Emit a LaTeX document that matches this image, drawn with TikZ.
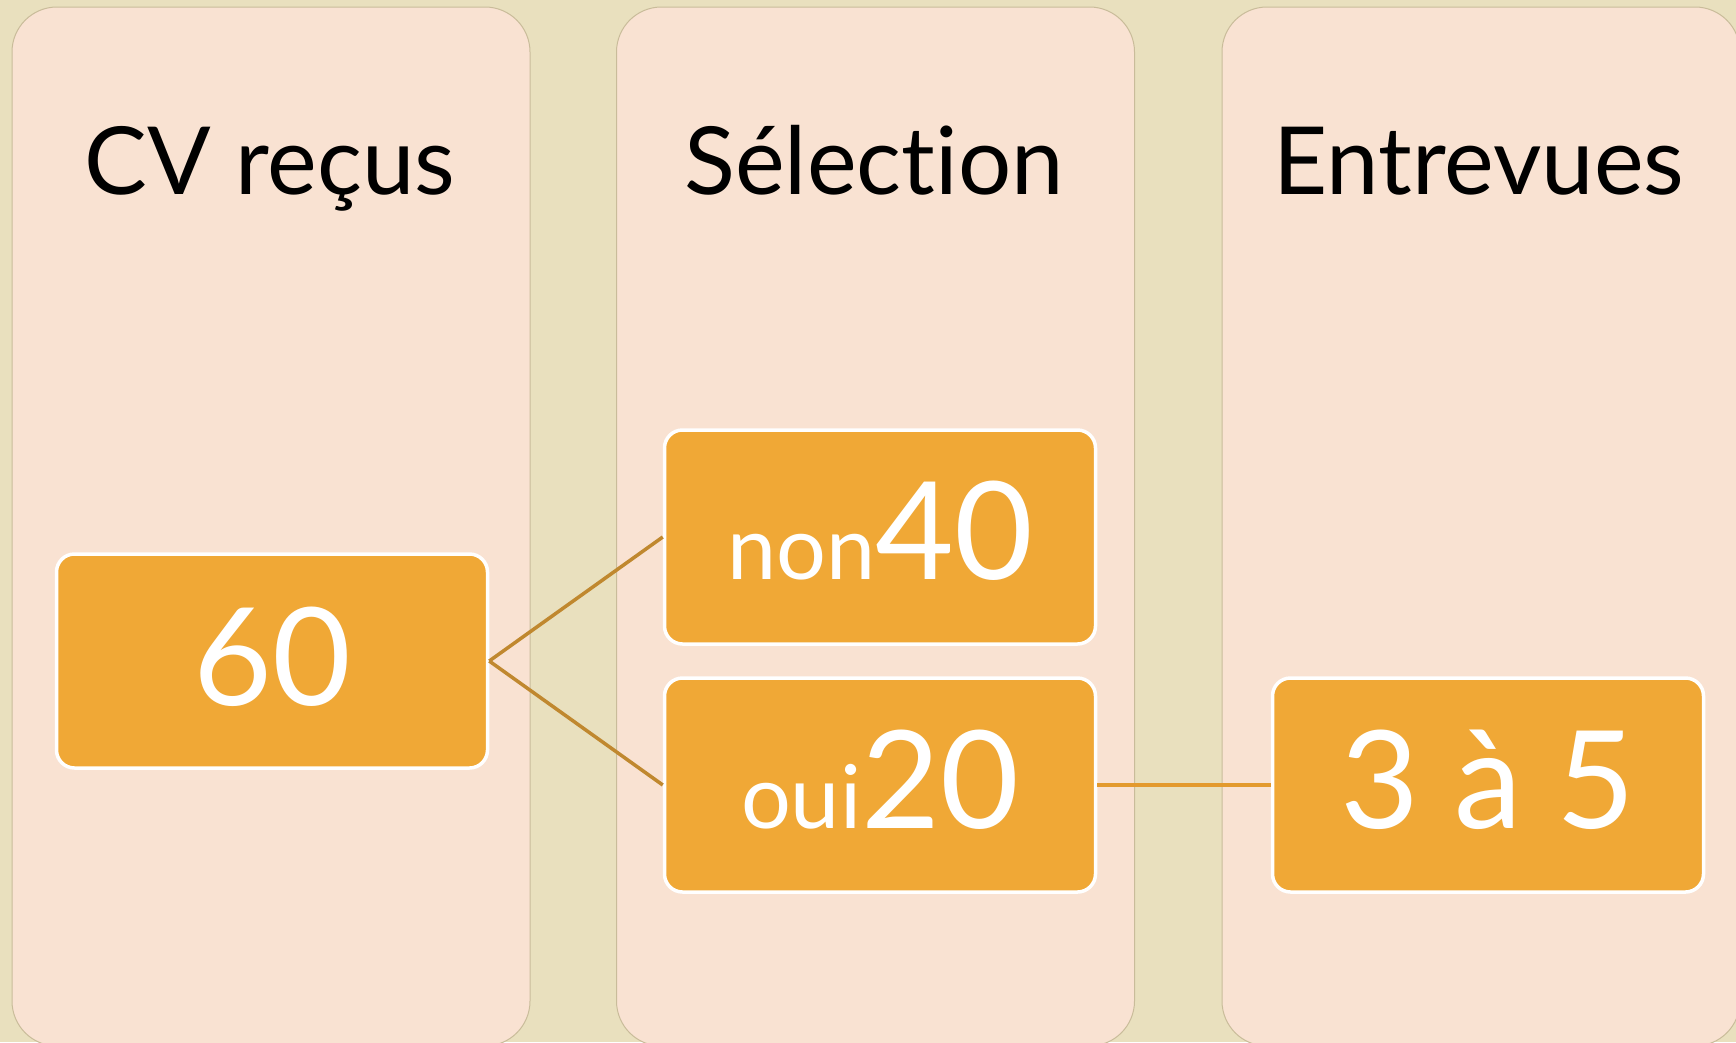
\documentclass[tikz,border=0pt]{standalone}
\usepackage{fontspec}
\setmainfont{Lato}[Ligatures=NoCommon]
\definecolor{bgc}{HTML}{E9E0BE}
\definecolor{panelc}{HTML}{F9E2D2}
\definecolor{panelb}{HTML}{C9BC9A}
\definecolor{boxc}{HTML}{F0A836}
\definecolor{linkc}{HTML}{C0882F}
\definecolor{linkh}{HTML}{E39A2E}
\tikzset{
  panel/.style={draw=panelb, line width=1pt, fill=panelc, rounded corners=45pt,
    minimum width=518pt, minimum height=1039pt, inner sep=0pt},
  obox/.style={draw=white, line width=3.5pt, fill=boxc, rounded corners=18pt,
    minimum width=431pt, minimum height=214pt, inner sep=0pt},
  title/.style={anchor=base, inner sep=0pt, font=\fontsize{94}{104}\selectfont},
  num/.style={anchor=base, inner sep=0pt, text=white, font=\fontsize{136}{146}\selectfont},
  link/.style={draw=linkc, line width=3.5pt},
}
\newcommand{\smalltxt}[1]{{\fontsize{88}{98}\selectfont #1}}
\begin{document}
\begin{tikzpicture}[x=1pt,y=-1pt]
\useasboundingbox (0,0) rectangle (1736,1042);
\fill[bgc] (0,0) rectangle (1736,1042);
\begin{scope}
\clip (0,0) rectangle (1736,1042);
\node[panel] (p1) at (271,526.5) {};
\node[panel] (p2) at (875.5,526.5) {};
\node[panel] (p3) at (1481,526.5) {};
\end{scope}
\node[title] (t1) at (270,194) {CV reçus};
\node[title] (t2) at (874,194) {Sélection};
\node[title] (t3) at (1479,194) {Entrevues};
\node[obox] (b60) at (272,661) {};
\node[obox] (bnon) at (880,537) {};
\node[obox] (boui) at (880,785) {};
\node[obox] (b35) at (1488,785) {};
\draw[link] (b60.east) -- (bnon.west);
\draw[link] (b60.east) -- (boui.west);
\draw[draw=linkh, line width=4pt] (boui.east) -- (b35.west);
\node[num] (n60) at (272,705) {60};
\node[num] (n40) at (880,579) {\smalltxt{non}40};
\node[num] (n20) at (880,828) {\smalltxt{oui}20};
\node[num] (n35) at (1488,828) {3 à 5};
\end{tikzpicture}
\end{document}
